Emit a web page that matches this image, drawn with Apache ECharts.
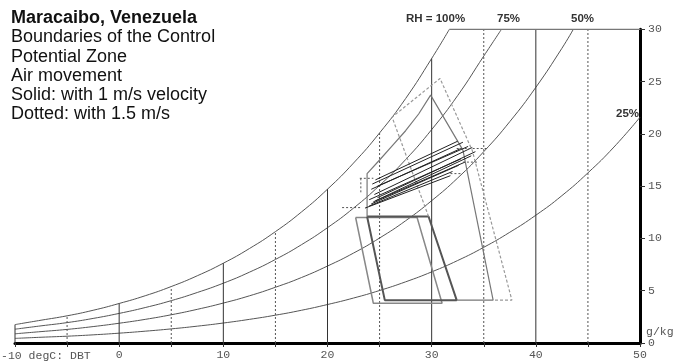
<!DOCTYPE html>
<html><head><meta charset="utf-8">
<script src="https://cdn.jsdelivr.net/npm/echarts@6/dist/echarts.min.js"></script>
<style>html,body{margin:0;padding:0;background:#fff}#c{width:678px;height:363px}</style>
</head><body><div id="c"></div>
<script>
// ---- data ----
const titleLines = ["Maracaibo, Venezuela","Boundaries of the Control","Potential Zone","Air movement","Solid: with 1 m/s velocity","Dotted: with 1.5 m/s"];
const rh100T = [-10,-7.5,-5,-2.5,0,2.5,5,7.5,10,12.5,15,17.5,20,22.5,25,27.5,30,31.7];
const rh100W = [1.76,2.18,2.60,3.13,3.78,4.52,5.40,6.43,7.63,9.03,10.65,12.53,14.71,17.21,20.09,23.38,27.21,30];
const rh75T = [-10,-7.5,-5,-2.5,0,2.5,5,7.5,10,12.5,15,17.5,20,22.5,25,27.5,30,32.5,35,36.7];
const rh75W = [1.32,1.64,1.95,2.35,2.83,3.39,4.05,4.83,5.72,6.77,7.99,9.40,11.03,12.90,15.07,17.54,20.41,23.67,27.44,30];
const rh50T = [-10,-7.5,-5,-2.5,0,2.5,5,7.5,10,12.5,15,17.5,20,22.5,25,27.5,30,32.5,35,37.5,40,42.5,43.6];
const rh50W = [0.88,1.09,1.30,1.57,1.89,2.26,2.70,3.22,3.82,4.51,5.33,6.26,7.36,8.60,10.04,11.69,13.61,15.78,18.30,21.17,24.45,28.18,30];
const rh25T = [-10,-7.5,-5,-2.5,0,2.5,5,7.5,10,12.5,15,17.5,20,22.5,25,27.5,30,32.5,35,37.5,40,42.5,45,47.5,50];
const rh25W = [0.44,0.55,0.65,0.78,0.94,1.13,1.35,1.61,1.91,2.26,2.66,3.13,3.68,4.30,5.02,5.85,6.80,7.89,9.15,10.59,12.22,14.09,16.27,18.74,21.59];
const rhLabels = ["RH = 100%","75%","50%","25%"];
const gridT   = [-10,-5,0,5,10,15,20,25,30,35,40,45];
const gridTop = [1.76,2.60,3.78,5.40,7.63,10.65,14.71,20.09,27.21,30,30,30];
const topLineT = [31.7,50];
const comfortDark = [[23.8,12.1],[29.7,12.1],[32.4,4.1],[25.5,4.1],[23.8,12.1]];
const comfortGrey = [[22.7,12.0],[28.6,12.0],[31.0,3.8],[24.4,3.8],[22.7,12.0]];
const zone1ms = [[23.8,12.1],[23.8,16.2],[25.0,17.5],[26.25,18.9],[27.5,20.3],[28.75,21.9],[29.9,23.7],[33.0,18.45],[35.9,4.1],[32.4,4.1]];
const zone15ms = [[29.7,12.1],[26.2,21.6],[30.8,25.3],[33.9,18.4],[37.7,4.1],[35.9,4.1]];
const monthLines = [
 [[24.6,15.6],[32.5,19.3]],[[24.3,15.2],[33.0,19.2]],[[24.8,15.0],[33.5,18.8]],[[24.2,14.7],[32.8,18.6]],
 [[24.0,13.7],[32.8,17.6]],[[24.4,13.5],[33.2,17.3]],[[24.2,13.3],[32.6,17.0]],[[24.6,13.6],[33.8,17.9]],
 [[24.0,13.1],[32.0,16.4]],[[24.8,13.9],[34.2,18.3]],[[23.6,12.9],[31.8,16.0]],[[24.5,14.2],[33.9,18.7]]
];
const dottedBits = [
 [[21.4,12.95],[23.3,12.95]],[[23.1,15.75],[24.4,15.75]],[[23.2,15.75],[23.2,14.4]],
 [[32.4,18.6],[35.3,18.6]],[[33.0,17.3],[34.35,17.3]],[[31.8,16.2],[33.0,16.2]]
];

// ---- build ----
const zip = (a,b) => a.map((v,i)=>[v,b[i]]);
const series = [];
function line(pts, color, width, type, smooth){
  series.push({type:'line', data:pts, symbol:'none', smooth: smooth||false, silent:true, animation:false,
    lineStyle:{color:color, width:width, type:type||'solid'}});
}
[[rh100T,rh100W],[rh75T,rh75W],[rh50T,rh50W],[rh25T,rh25W]].forEach(c=>line(zip(c[0],c[1]),'#555',1,'solid',true));
gridT.forEach((t,i)=>{
  const solid = (t % 10 === 0);
  line([[t,0],[t,gridTop[i]]], solid?'#333':'#555', 1, solid?'solid':[2,2]);
});
line([[topLineT[0],30],[topLineT[1],30]],'#777',1.5);
line(comfortGrey,'#888',1.5);
line(comfortDark,'#555',2);
line(zone15ms,'#999',1.2,[3,2]);
line(zone1ms,'#777',1.2);
monthLines.forEach(m=>line(m,'#222',1));
dottedBits.forEach(m=>line(m,'#555',1,[2,2]));

const chart = echarts.init(document.getElementById('c'));
const mono = "'Liberation Mono','DejaVu Sans Mono',monospace";
const sans = "'Liberation Sans',Arial,sans-serif";
const graphics = titleLines.map((t,i)=>({type:'text', left:11, top:9+i*19.3,
  style:{text:t, font:(i===0?'bold ':'')+"18px "+sans, fill:'#111'}}));
graphics.push({type:'text', left:1, top:350, style:{text:'-10 degC: DBT', font:"11.5px "+mono, fill:'#555'}});
graphics.push({type:'text', left:646, top:326, style:{text:'g/kg', font:"11.5px "+mono, fill:'#555'}});
const rhPos = [[406,13],[497,13],[571,13],[616,108]];
rhLabels.forEach((t,i)=>graphics.push({type:'text', left:rhPos[i][0], top:rhPos[i][1],
  style:{text:t, font:"bold 11.5px "+sans, fill:'#333'}}));

chart.setOption({
  animation:false,
  grid:{left:15, right:38, top:29.3, bottom:20},
  xAxis:{type:'value', min:-10, max:50, interval:5,
    axisLine:{onZero:false, lineStyle:{color:'#000', width:3}},
    axisTick:{length:4, lineStyle:{color:'#333'}},
    axisLabel:{margin:6, fontFamily:mono, fontSize:11.5, color:'#555',
      formatter:v=> (v%10===0 && v!==-10) ? String(v) : ''},
    splitLine:{show:false}},
  yAxis:{type:'value', position:'right', min:0, max:30, interval:5,
    axisLine:{show:true, onZero:false, lineStyle:{color:'#000', width:3}},
    axisTick:{show:true, length:5, lineStyle:{color:'#333'}},
    axisLabel:{margin:8, fontFamily:mono, fontSize:11.5, color:'#555'},
    splitLine:{show:false}},
  graphic:graphics,
  series:series
});
</script></body></html>
